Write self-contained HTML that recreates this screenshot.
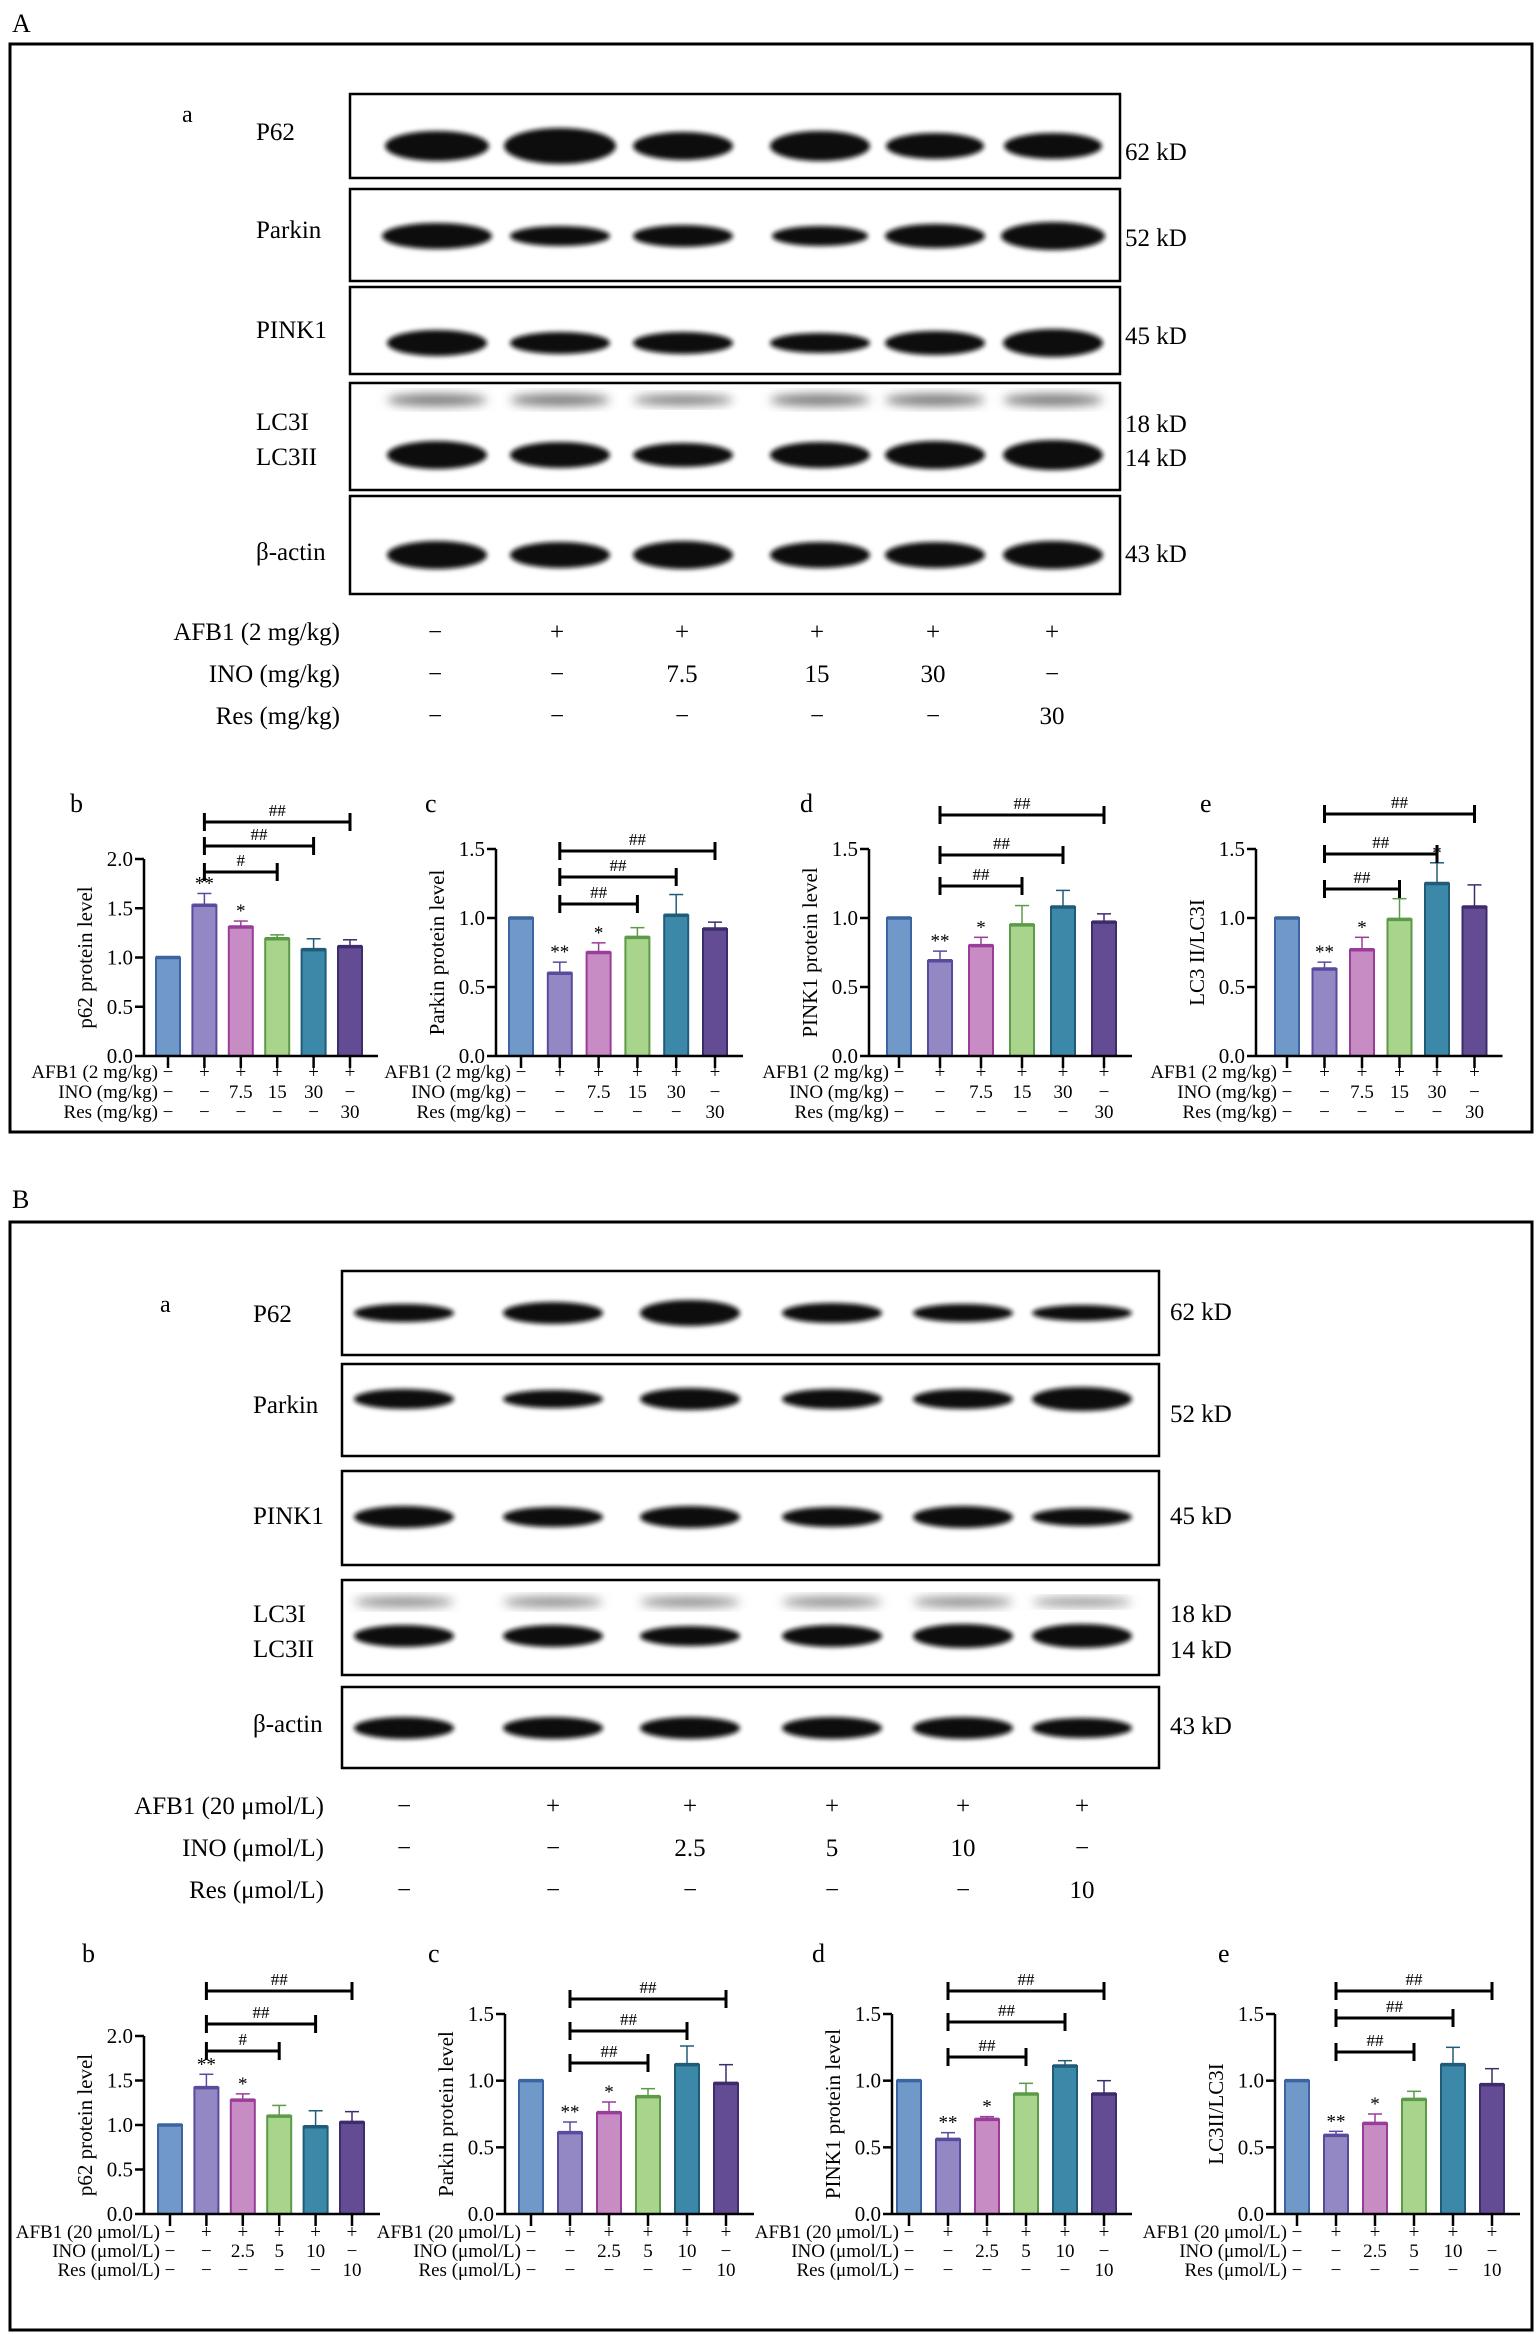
<!DOCTYPE html>
<html><head><meta charset="utf-8"><style>
html,body{margin:0;padding:0;background:#fff;}
svg{display:block;font-family:"Liberation Serif","Times New Roman",serif;}
text{font-family:"Liberation Serif","Times New Roman",serif;}
</style></head><body>
<svg id="s" width="1540" height="2334" viewBox="0 0 1540 2334" xmlns="http://www.w3.org/2000/svg" font-family="Liberation Serif, serif">
<defs><filter id="bl" x="-20%" y="-50%" width="140%" height="200%"><feGaussianBlur stdDeviation="2.5"/></filter>
<filter id="bl2" x="-20%" y="-50%" width="140%" height="200%"><feGaussianBlur stdDeviation="5"/></filter></defs>
</svg>
<script>
const s=document.getElementById('s');let h='';
function T(x,y,t,sz,anc,extra){h+=`<text x="${x}" y="${y}" font-family="Liberation Serif, serif" font-size="${sz}" text-anchor="${anc||'start'}" ${extra||''}>${t}</text>`;}
function L(x1,y1,x2,y2,w,c){h+=`<line x1="${x1}" y1="${y1}" x2="${x2}" y2="${y2}" stroke="${c||'#000'}" stroke-width="${w||2}"/>`;}
function R(x,y,w,hh,f,st,sw){h+=`<rect x="${x}" y="${y}" width="${w}" height="${hh}" fill="${f}" stroke="${st||'none'}" stroke-width="${sw||0}"/>`;}
T(12,32,'A',26);R(10,44,1522,1088,'none','#000',3);
T(12,1208,'B',26);R(10,1222,1522,1108,'none','#000',3);
function blot(box,lanes,rows,labx,kdx,aY){
  T(aY[0],aY[1],'a',24);
  rows.forEach(r=>{
    R(box[0],r.y0,box[1]-box[0],r.y1-r.y0,'#fff','#000',2.5);
    r.bands.forEach(b=>{lanes.forEach((x,i)=>{const w=(b.w&&b.w[i])||100;const hh=(b.h&&b.h[i])||24;
      h+=`<ellipse cx="${x}" cy="${b.y}" rx="${w/2}" ry="${hh/2}" fill="${b.c||'#0a0a0a'}" filter="url(#${b.f||'bl'})"/>`;});});
    r.labs.forEach(l=>T(labx,l[1],l[0],25));
    r.kd.forEach(l=>T(kdx,l[1],l[0],25));
  });
}
blot([350,1120],[437,560,683,820,935,1053],[
 {y0:94,y1:178,bands:[{y:146,h:[30,36,28,30,26,26],w:[104,112,100,100,98,98]}],labs:[['P62',140]],kd:[['62 kD',160]]},
 {y0:189,y1:281,bands:[{y:236,h:[26,20,22,20,24,28],w:[110,100,100,96,100,104]}],labs:[['Parkin',238]],kd:[['52 kD',246]]},
 {y0:287,y1:374,bands:[{y:343,h:[26,22,22,20,24,28]}],labs:[['PINK1',338]],kd:[['45 kD',344]]},
 {y0:383,y1:490,bands:[{y:400,h:[12,12,10,12,12,12],c:'#777',f:'bl2'},{y:455,h:[28,26,24,26,28,30]}],labs:[['LC3I',430],['LC3II',465]],kd:[['18 kD',432],['14 kD',466]]},
 {y0:496,y1:594,bands:[{y:555,h:[28,26,28,26,26,28]}],labs:[['β-actin',560]],kd:[['43 kD',562]]}
],256,1125,[182,122]);
blot([342,1159],[404,553,690,832,963,1082],[
 {y0:1271,y1:1355,bands:[{y:1313,h:[18,22,26,20,18,16]}],labs:[['P62',1322]],kd:[['62 kD',1320]]},
 {y0:1364,y1:1456,bands:[{y:1399,h:[20,18,22,20,20,24]}],labs:[['Parkin',1413]],kd:[['52 kD',1422]]},
 {y0:1471,y1:1565,bands:[{y:1517,h:[22,20,22,20,22,18]}],labs:[['PINK1',1524]],kd:[['45 kD',1524]]},
 {y0:1580,y1:1675,bands:[{y:1602,h:[10,10,10,10,10,8],c:'#888',f:'bl2'},{y:1636,h:[22,22,20,22,24,24]}],labs:[['LC3I',1622],['LC3II',1657]],kd:[['18 kD',1622],['14 kD',1658]]},
 {y0:1687,y1:1768,bands:[{y:1728,h:[22,22,22,22,22,20]}],labs:[['β-actin',1732]],kd:[['43 kD',1734]]}
],253,1170,[160,1312]);
function table(rows,cols,labR,ys,vals,sz){rows.forEach((r,i)=>{T(labR,ys[i],r,sz,'end');vals[i].forEach((v,j)=>T(cols[j],ys[i],v,sz,'middle'));});}
const M='−';
table(['AFB1 (2 mg/kg)','INO (mg/kg)','Res (mg/kg)'],[435,557,682,817,933,1052],340,[640,682,724],
 [[M,'+','+','+','+','+'],[M,M,'7.5','15','30',M],[M,M,M,M,M,'30']],25);
table(['AFB1 (20 μmol/L)','INO (μmol/L)','Res (μmol/L)'],[404,553,690,832,963,1082],324,[1814,1856,1898],
 [[M,'+','+','+','+','+'],[M,M,'2.5','5','10',M],[M,M,M,M,M,'10']],25);
const fills=['#7098c8','#9488c4','#c88cc4','#a8d48c','#3c88a8','#644c94'];
const strokes=['#3c64a0','#5a4a9c','#9a3c9a','#5c9a48','#205c78','#3c2c6c'];
function chart(o){
 const {ax,bx,base,top,ymax,vals,errs,yl,ticks,br,stars,lab,tbl,tys}=o;
 const sc=(base-top)/ymax;
 T(lab[0],lab[1],lab[2],26);
 vals.forEach((v,i)=>{const x=bx[i],y=base-v*sc;
  if(errs[i]){L(x,y,x,y-errs[i]*sc,1.5,strokes[i]);L(x-7,y-errs[i]*sc,x+7,y-errs[i]*sc,1.5,strokes[i]);}
  R(x-12,y,24,v*sc,fills[i],strokes[i],2);
  L(x-12,y,x+12,y,3.5,strokes[i]);
  if(stars[i])T(x,y-errs[i]*sc-4,stars[i],19,'middle');
 });
 L(ax,base,ax,top,2.5);L(ax,base,bx[5]+28,base,2.5);
 bx.forEach(x=>L(x,base,x,base+12,2.5));
 ticks.forEach(t=>{const y=base-t*sc;L(ax-9,y,ax,y,2.5);T(ax-11,y+7,t.toFixed(1),21,'end');});
 const cy=(base+top)/2;
 T(ax-52,cy,yl,21,'middle',`transform="rotate(-90 ${ax-52} ${cy})"`);
 br.forEach(b=>{L(bx[1],b[0],bx[b[1]],b[0],3);L(bx[1],b[0]-9,bx[1],b[0]+9,3);L(bx[b[1]],b[0]-9,bx[b[1]],b[0]+9,3);
  T((bx[1]+bx[b[1]])/2,b[0]-6,b[2],17,'middle');});
 tbl[0].forEach((r,i)=>{T(bx[0]-10,tys[i],r,19,'end');tbl[1][i].forEach((v,j)=>T(bx[j],tys[i],v,19,'middle'));});
}
const bx=(s,d)=>[0,1,2,3,4,5].map(i=>s+d*i);
const tA=[['AFB1 (2 mg/kg)','INO (mg/kg)','Res (mg/kg)'],[[M,'+','+','+','+','+'],[M,M,'7.5','15','30',M],[M,M,M,M,M,'30']]];
const tB=[['AFB1 (20 μmol/L)','INO (μmol/L)','Res (μmol/L)'],[[M,'+','+','+','+','+'],[M,M,'2.5','5','10',M],[M,M,M,M,M,'10']]];
const st=['','**','*','','',''];
const tysA=[1078,1098,1118], tysB=[2238,2257,2276];
chart({ax:144,bx:bx(168,36.4),base:1056,top:859,ymax:2,vals:[1,1.53,1.31,1.19,1.08,1.11],errs:[0,.12,.06,.04,.11,.07],yl:'p62 protein level',ticks:[0,.5,1,1.5,2],br:[[872,3,'#'],[846,4,'##'],[822,5,'##']],stars:st,lab:[70,812,'b'],tbl:tA,tys:tysA});
chart({ax:496,bx:bx(521,38.8),base:1056,top:849,ymax:1.5,vals:[1,.6,.75,.86,1.02,.92],errs:[0,.08,.07,.07,.15,.05],yl:'Parkin protein level',ticks:[0,.5,1,1.5],br:[[904,3,'##'],[877,4,'##'],[851,5,'##']],stars:st,lab:[425,812,'c'],tbl:tA,tys:tysA});
chart({ax:869,bx:bx(899,41),base:1056,top:849,ymax:1.5,vals:[1,.69,.8,.95,1.08,.97],errs:[0,.07,.06,.14,.12,.06],yl:'PINK1 protein level',ticks:[0,.5,1,1.5],br:[[886,3,'##'],[855,4,'##'],[815,5,'##']],stars:st,lab:[800,812,'d'],tbl:tA,tys:tysA});
chart({ax:1256,bx:bx(1287,37.5),base:1056,top:849,ymax:1.5,vals:[1,.63,.77,.99,1.25,1.08],errs:[0,.05,.09,.15,.15,.16],yl:'LC3 II/LC3I',ticks:[0,.5,1,1.5],br:[[889,3,'##'],[854,4,'##'],[814,5,'##']],stars:['','**','*','','*',''],lab:[1200,812,'e'],tbl:tA,tys:tysA});
chart({ax:144,bx:bx(170,36.4),base:2214,top:2036,ymax:2,vals:[1,1.42,1.28,1.1,.98,1.03],errs:[0,.15,.07,.12,.18,.12],yl:'p62 protein level',ticks:[0,.5,1,1.5,2],br:[[2051,3,'#'],[2024,4,'##'],[1991,5,'##']],stars:st,lab:[82,1962,'b'],tbl:tB,tys:tysB});
chart({ax:505,bx:bx(531,39),base:2214,top:2014,ymax:1.5,vals:[1,.61,.76,.88,1.12,.98],errs:[0,.08,.08,.06,.14,.14],yl:'Parkin protein level',ticks:[0,.5,1,1.5],br:[[2063,3,'##'],[2031,4,'##'],[1999,5,'##']],stars:st,lab:[428,1962,'c'],tbl:tB,tys:tysB});
chart({ax:892,bx:bx(909,39),base:2214,top:2014,ymax:1.5,vals:[1,.56,.71,.9,1.11,.9],errs:[0,.05,.02,.08,.04,.1],yl:'PINK1 protein level',ticks:[0,.5,1,1.5],br:[[2057,3,'##'],[2022,4,'##'],[1991,5,'##']],stars:st,lab:[812,1962,'d'],tbl:tB,tys:tysB});
chart({ax:1275,bx:bx(1297,39),base:2214,top:2014,ymax:1.5,vals:[1,.59,.68,.86,1.12,.97],errs:[0,.03,.07,.06,.13,.12],yl:'LC3II/LC3I',ticks:[0,.5,1,1.5],br:[[2052,3,'##'],[2018,4,'##'],[1991,5,'##']],stars:st,lab:[1218,1962,'e'],tbl:tB,tys:tysB});
s.insertAdjacentHTML('beforeend',h);
</script>
</body></html>
